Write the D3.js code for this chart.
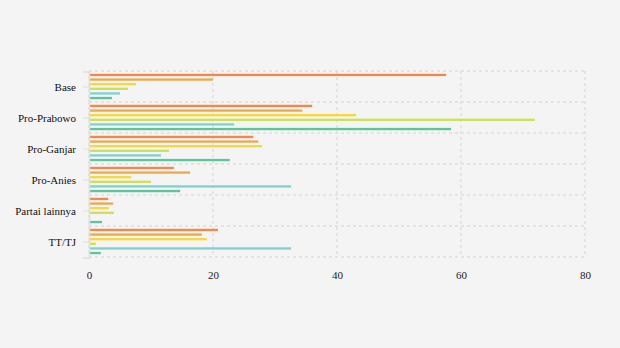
<!DOCTYPE html>
<html>
<head>
<meta charset="utf-8">
<script src="https://cdn.jsdelivr.net/npm/d3@7"></script>
<style>
  html, body { margin: 0; padding: 0; background: #f4f4f4; }
  svg { display: block; }
  svg text { font-family: "Liberation Serif", "Times New Roman", serif; }
</style>
</head>
<body>
<svg id="chart" width="620" height="348"></svg>
<script>
// Groups shown on the vertical axis
const categories = ["Base", "Pro-Prabowo", "Pro-Ganjar", "Pro-Anies", "Partai lainnya", "TT/TJ"];
// Series keys (drawn top to bottom inside each group)
const seriesKeys = ["s1", "s2", "s3", "s4", "s5", "s6"];
const seriesColors = ["#f5874a", "#eaaa4b", "#f5d83c", "#cde05a", "#80d0d0", "#5ec49a"];
// Values per series, one per category
const s1 = [57.6, 36.0, 26.5, 13.7, 3.1, 20.8];
const s2 = [20.0, 34.4, 27.3, 16.3, 3.9, 18.2];
const s3 = [7.6, 43.1, 27.9, 6.8, 3.2, 19.0];
const s4 = [6.3, 71.9, 12.9, 10.0, 4.0, 1.1];
const s5 = [5.0, 23.4, 11.6, 32.6, 0, 32.6];
const s6 = [3.7, 58.4, 22.7, 14.7, 2.1, 1.9];
const xTicks = [0, 20, 40, 60, 80];

const seriesValues = [s1, s2, s3, s4, s5, s6];
const rows = categories.map((c, i) => ({
  category: c,
  values: seriesKeys.map((k, j) => ({ key: k, value: seriesValues[j][i], color: seriesColors[j] }))
}));

const svg = d3.select("#chart");
const margin = { left: 89, right: 35, top: 71, bottom: 91 };
const W = 620, H = 348;

const x = d3.scaleLinear().domain([0, 80]).range([margin.left, W - margin.right]);
const y0 = d3.scaleBand().domain(categories).range([margin.top, H - margin.bottom]).padding(0);
const y1 = d3.scaleBand().domain(seriesKeys)
  .range([y0.bandwidth() * 0.09, y0.bandwidth() * 0.91]).paddingInner(0.5);

const gridColor = "#dedede";

// vertical grid lines at each x tick
svg.append("g").selectAll("line").data(xTicks).join("line")
  .attr("x1", d => x(d)).attr("x2", d => x(d))
  .attr("y1", margin.top).attr("y2", H - margin.bottom)
  .attr("stroke", gridColor).attr("stroke-width", 1.5).attr("stroke-dasharray", "3,3");

// horizontal grid lines at band boundaries
const boundaries = categories.map(c => y0(c)).concat([y0.range()[1]]);
svg.append("g").selectAll("line").data(boundaries).join("line")
  .attr("x1", margin.left).attr("x2", W - margin.right)
  .attr("y1", d => d).attr("y2", d => d)
  .attr("stroke", gridColor).attr("stroke-width", 1.5).attr("stroke-dasharray", "3,3");

// bars
const groups = svg.append("g").selectAll("g").data(rows).join("g")
  .attr("transform", d => `translate(0,${y0(d.category)})`);
groups.selectAll("rect").data(d => d.values).join("rect")
  .attr("x", x(0))
  .attr("y", d => y1(d.key))
  .attr("width", d => x(d.value) - x(0))
  .attr("height", y1.bandwidth())
  .attr("fill", d => d.color);

// y axis
const yAxis = svg.append("g").attr("transform", `translate(${margin.left},0.5)`)
  .call(d3.axisLeft(y0).tickSize(6).tickPadding(7));
yAxis.attr("font-family", null);
yAxis.select(".domain").attr("stroke", gridColor).attr("stroke-width", 1.5);
yAxis.selectAll(".tick line").attr("stroke", gridColor);
yAxis.selectAll("text").attr("font-size", 11).attr("fill", "#111");

// x axis
const xAxis = svg.append("g").attr("transform", `translate(0,${H - margin.bottom})`)
  .call(d3.axisBottom(x).tickValues(xTicks).tickSize(0).tickPadding(14));
xAxis.attr("font-family", null);
xAxis.select(".domain").remove();
xAxis.selectAll("text").attr("font-size", 11).attr("fill", "#222");
</script>
</body>
</html>
